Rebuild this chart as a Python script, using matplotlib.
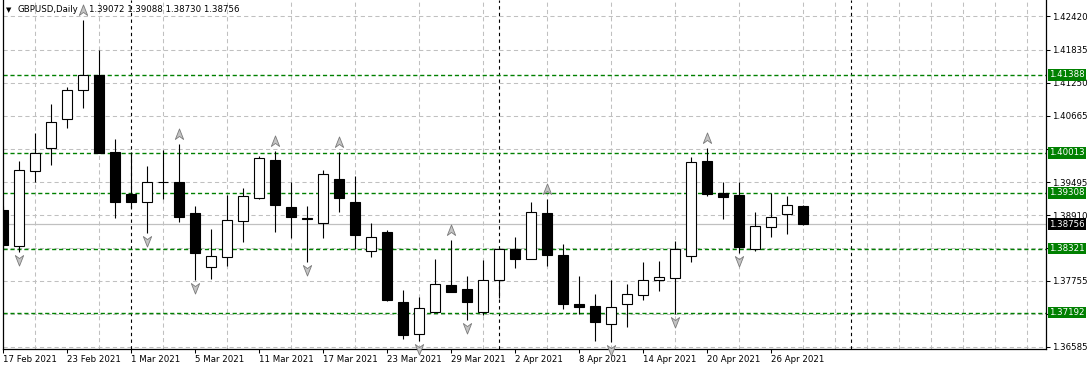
import matplotlib
matplotlib.use("Agg")
import matplotlib.pyplot as plt
from matplotlib.path import Path
from matplotlib.transforms import offset_copy
import numpy as np
import pandas as pd

# ---------------- data ----------------
symbol = "GBPUSD,Daily"
dates = pd.bdate_range("2021-02-17", "2021-04-28")

open_ = [1.39003, 1.38368, 1.39692, 1.40098, 1.40610, 1.41122, 1.41387, 1.40027, 1.39286, 1.39145,
         1.39505, 1.39498, 1.38950, 1.37997, 1.38173, 1.38809, 1.39215, 1.39886, 1.39056, 1.38862,
         1.38774, 1.39551, 1.39145, 1.38279, 1.38615, 1.37379, 1.36814, 1.37203, 1.37678, 1.37608,
         1.37203, 1.37767, 1.38315, 1.38138, 1.38950, 1.38209, 1.37344, 1.37309, 1.36991, 1.37344,
         1.37502, 1.37767, 1.37803, 1.38191, 1.39869, 1.39304, 1.39268, 1.38315, 1.38703, 1.38933,
         1.39072]
high = [1.39074, 1.39869, 1.40363, 1.40875, 1.41175, 1.42358, 1.41828, 1.40257, 1.40027, 1.39780,
        1.40063, 1.40169, 1.39074, 1.38668, 1.39268, 1.39392, 1.39957, 1.40045, 1.39498, 1.39074,
        1.39710, 1.40027, 1.39604, 1.38774, 1.38650, 1.37590, 1.37467, 1.38138, 1.38474, 1.37838,
        1.38121, 1.38320, 1.38527, 1.39145, 1.39198, 1.38403, 1.37838, 1.37519, 1.37767, 1.37696,
        1.38085, 1.38103, 1.38456, 1.39939, 1.40098, 1.39498, 1.39498, 1.38968, 1.39304, 1.39251,
        1.39088]
low = [1.38297, 1.38262, 1.39498, 1.39798, 1.40451, 1.40804, 1.40005, 1.38862, 1.39039, 1.38597,
       1.39198, 1.38792, 1.37767, 1.37785, 1.38015, 1.38438, 1.39198, 1.38615, 1.38509, 1.38085,
       1.38509, 1.38968, 1.38315, 1.38173, 1.37396, 1.36726, 1.36691, 1.37195, 1.37550, 1.37061,
       1.37150, 1.37449, 1.37980, 1.38130, 1.38015, 1.37256, 1.37167, 1.36691, 1.36680, 1.36938,
       1.37414, 1.37572, 1.37167, 1.38085, 1.39251, 1.38845, 1.38244, 1.38279, 1.38527, 1.38580,
       1.38730]
close = [1.38385, 1.39710, 1.40010, 1.40557, 1.41122, 1.41387, 1.40013, 1.39145, 1.39145, 1.39498,
         1.39490, 1.38880, 1.38244, 1.38191, 1.38827, 1.39251, 1.39922, 1.39092, 1.38880, 1.38845,
         1.39639, 1.39215, 1.38562, 1.38527, 1.37414, 1.36797, 1.37273, 1.37696, 1.37555, 1.37379,
         1.37767, 1.38315, 1.38138, 1.38968, 1.38209, 1.37344, 1.37291, 1.37026, 1.37291, 1.37519,
         1.37767, 1.37821, 1.38315, 1.39851, 1.39286, 1.39233, 1.38350, 1.38721, 1.38880, 1.39092,
         1.38756]

up_fractals = [5, 11, 17, 21, 28, 34, 44]
down_fractals = [1, 9, 12, 19, 26, 29, 38, 42, 46]

levels = [1.41388, 1.40013, 1.39308, 1.38321, 1.37192]
last_price = 1.38756
price_ticks = [1.42420, 1.41835, 1.41250, 1.40665, 1.40080, 1.39495, 1.38910,
               1.38325, 1.37755, 1.37170, 1.36585]
hidden_ticks = [1.40080, 1.38325, 1.37170]   # covered by the level boxes
month_starts = [8, 31, 53]          # 1 Mar, 1 Apr, 3 May (bar index)
date_tick_step = 4
grid_step = 2
n_slots = 65

# ---------------- figure ----------------
plt.rcParams['font.family'] = ['DejaVu Sans']
W, Hh = 1091, 370
fig = plt.figure(figsize=(W / 100, Hh / 100), dpi=100)
fig.patch.set_facecolor('white')
ax = fig.add_axes([2.5 / W, (Hh - 349) / Hh, 1043 / W, 349 / Hh])
ax.set_facecolor('white')

n = len(open_)
x = np.arange(n)
o = np.array(open_); h = np.array(high); l = np.array(low); c = np.array(close)

ax.set_xlim(-0.05, 65.14)
ax.set_ylim(1.36549, 1.42711)

# grid
ax.set_axisbelow(True)
ax.set_yticks(price_ticks)
ax.set_yticklabels(["" if v in hidden_ticks else f"{v:.5f}" for v in price_ticks])
ax.set_xticks(range(0, n, date_tick_step))
ax.set_xticklabels([d.strftime("%-d %b %Y") for d in dates[::date_tick_step]], ha='left')
ax.set_xticks(range(0, n_slots, grid_step), minor=True)
ax.grid(False)
ax.grid(True, which='minor', axis='x', color='#c0c0c0', lw=0.75, ls=(0, (4, 3)))
ax.grid(True, which='major', axis='y', color='#c0c0c0', lw=0.75, ls=(0, (4, 3)))

ax.yaxis.tick_right()
ax.tick_params(axis='y', which='major', direction='out', length=3, width=0.75,
               labelsize=6.2, pad=2, colors='black')
ax.tick_params(axis='x', which='major', direction='out', length=3, width=0.75,
               labelsize=6.2, pad=1.5, colors='black')
ax.tick_params(axis='x', which='minor', length=0)

for s in ['left', 'right', 'bottom']:
    ax.spines[s].set_color('black')
    ax.spines[s].set_linewidth(0.9)
ax.spines['top'].set_visible(False)

# month separators
for m in month_starts:
    ax.axvline(m, color='black', lw=0.8, ls=(0, (3, 3)), zorder=1.5)

# level lines
for lv in levels:
    ax.axhline(lv, color='#008000', lw=1.0, ls=(0, (3, 2)), zorder=1.6)
# bid line
ax.axhline(last_price, color='#c0c0c0', lw=0.9, zorder=1.4)

# candles
ax.vlines(x, l, h, color='black', lw=0.8, zorder=2)
bull = c >= o
body_bottom = np.minimum(o, c)
body_h = np.maximum(np.abs(c - o), 0.00003)
ax.bar(x[bull], body_h[bull], bottom=body_bottom[bull], width=0.6,
       facecolor='white', edgecolor='black', linewidth=0.8, zorder=3)
ax.bar(x[~bull], body_h[~bull], bottom=body_bottom[~bull], width=0.6,
       facecolor='black', edgecolor='black', linewidth=0.8, zorder=3)

# fractal arrows
up_path = Path([(0, 1), (0.75, -0.9), (0, -0.35), (-0.75, -0.9), (0, 1)],
               [Path.MOVETO, Path.LINETO, Path.LINETO, Path.LINETO, Path.CLOSEPOLY])
down_path = Path([(0, -1), (0.75, 0.9), (0, 0.35), (-0.75, 0.9), (0, -1)],
                 [Path.MOVETO, Path.LINETO, Path.LINETO, Path.LINETO, Path.CLOSEPOLY])
tr_up = offset_copy(ax.transData, fig=fig, x=0, y=10, units='dots')
tr_dn = offset_copy(ax.transData, fig=fig, x=0, y=-8, units='dots')
ax.plot(x[up_fractals], h[up_fractals], ls='none', marker=up_path, ms=8,
        mfc='#c4c4c4', mec='#7a7a7a', mew=0.6, transform=tr_up, zorder=4, clip_on=False)
ax.plot(x[down_fractals], l[down_fractals], ls='none', marker=down_path, ms=8,
        mfc='#c4c4c4', mec='#7a7a7a', mew=0.6, transform=tr_dn, zorder=4, clip_on=False)

# right-side price boxes
ytr = ax.get_yaxis_transform()
for lv in levels:
    ax.annotate(f"{lv:.5f}", xy=(1, lv), xycoords=ytr, xytext=(4, 0),
                textcoords='offset pixels', ha='left', va='center', fontsize=6.2,
                color='white', annotation_clip=False, zorder=6,
                bbox=dict(boxstyle='square,pad=0.15', fc='#008000', ec='none'))
ax.annotate(f"{last_price:.5f}", xy=(1, last_price), xycoords=ytr, xytext=(4, 0),
            textcoords='offset pixels', ha='left', va='center', fontsize=6.2,
            color='white', annotation_clip=False, zorder=6,
            bbox=dict(boxstyle='square,pad=0.15', fc='black', ec='none'))

# title
fig.text(9 / W, 1 - 10 / Hh, "\u25BC", fontsize=5, ha='center', va='center', color='black')
fig.text(18 / W, 1 - 10 / Hh, symbol, fontsize=6.2, ha='left', va='center', color='black')
fig.text(89 / W, 1 - 10 / Hh, f"{open_[-1]:.5f} {high[-1]:.5f} {low[-1]:.5f} {close[-1]:.5f}",
         fontsize=6.2, ha='left', va='center', color='black')

fig.savefig("out.png", dpi=100)
